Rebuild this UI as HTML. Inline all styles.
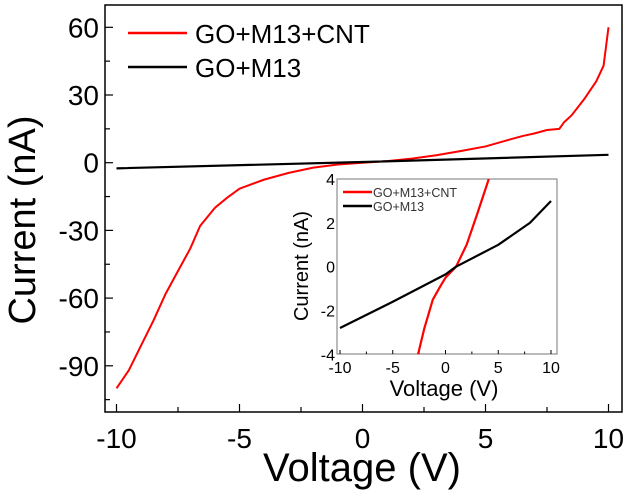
<!DOCTYPE html>
<html><head><meta charset="utf-8"><style>
body{margin:0;background:#fff;width:631px;height:496px;overflow:hidden}
svg{display:block;font-family:"Liberation Sans",sans-serif}
</style></head><body>
<svg id="c" width="631" height="496"></svg>
<script>
const mainRedV=[-10,-9.5,-9,-8.5,-8,-7.5,-7,-6.6,-6,-5.5,-5,-4,-3,-2,-1,0,1,2,3,4,5,6,6.5,7,7.5,8,8.2,8.5,9,9.5,9.8,10];
const mainRedI=[-100,-92,-81,-70,-58,-48,-38,-28,-20,-15.5,-11.5,-7.5,-4.5,-2.2,-0.8,0,0.7,1.8,3.3,5.2,7.2,10.3,11.8,13,14.5,15,18,21,28,36,43,60];
const mainBlackV=[-10,0,10];
const mainBlackI=[-2.5,0.3,3.5];
const insetRedV=[-2.6,-2,-1.2,-0.5,0,1,2,3,4.1];
const insetRedI=[-4,-2.8,-1.5,-0.9,-0.5,0,1,2.4,4];
const insetBlackV=[-10,-5,0,1,5,8,10];
const insetBlackI=[-2.8,-1.6,-0.35,0,1,2,3];
const mainXTicks=[-10,-5,0,5,10];
const mainYTicks=[60,30,0,-30,-60,-90];
const insetXTicks=[-10,-5,0,5,10];
const insetYTicks=[4,2,0,-2,-4];

const svg=document.getElementById('c');
const NS='http://www.w3.org/2000/svg';
function mk(t,a,txt){const e=document.createElementNS(NS,t);for(const k in a)e.setAttribute(k,a[k]);if(txt!==undefined)e.textContent=txt;svg.appendChild(e);return e;}
const mx=v=>116.5+(v+10)*24.6, my=i=>162.7-i*67.7/30;
const ix=v=>340+(v+10)*10.55, iy=i=>266.7-i*21.9;

let e=mk('rect',{x:105,y:5,width:517,height:407,fill:'none',stroke:'#000','stroke-width':1.5});

for(let v=-10;v<=10;v+=2.5){const maj=v%5===0;e=mk('line',{x1:mx(v),x2:mx(v),y1:412,y2:412-(maj?8:5),stroke:'#000','stroke-width':1.2});
}
for(let i=-105;i<=60;i+=15){e=mk('line',{x1:105,x2:105+(i%30===0?8:5),y1:my(i),y2:my(i),stroke:'#000','stroke-width':1.2});
}
mainXTicks.forEach(v=>{e=mk('text',{x:mx(v),y:448,'font-size':28,'text-anchor':'middle'},String(v));
});
mainYTicks.forEach(i=>{e=mk('text',{x:99,y:my(i)+10,'font-size':28,'text-anchor':'end'},String(i));
});
e=mk('text',{x:362,y:481,'font-size':40,'text-anchor':'middle'},'Voltage (V)');

e=mk('text',{x:0,y:0,'font-size':38,'text-anchor':'middle',transform:'translate(35,220) rotate(-90)'},'Current (nA)');


function line(V,I,fx,fy,col,w,name){e=mk('polyline',{points:V.map((v,k)=>fx(v)+','+fy(I[k])).join(' '),fill:'none',stroke:col,'stroke-width':w,'stroke-linejoin':'round'});
}
line(mainRedV,mainRedI,mx,my,'#f00',2,'series-go-m13-cnt');
line(mainBlackV,mainBlackI,mx,my,'#000',2.2,'series-go-m13');

e=mk('line',{x1:128,x2:187,y1:33,y2:33,stroke:'#f00','stroke-width':2.5});
e=mk('text',{x:195,y:43,'font-size':26},'GO+M13+CNT');
e=mk('line',{x1:128,x2:187,y1:67,y2:67,stroke:'#000','stroke-width':2.5});
e=mk('text',{x:195,y:77,'font-size':26},'GO+M13');

e=mk('rect',{x:337,y:179,width:220,height:175,fill:'#fff',stroke:'#777','stroke-width':1});

for(let v=-10;v<=10;v+=2.5){e=mk('line',{x1:ix(v),x2:ix(v),y1:354,y2:354-(v%5===0?4:2.5),stroke:'#000'});
}
insetXTicks.forEach(v=>{e=mk('text',{x:ix(v),y:373,'font-size':16,'text-anchor':'middle'},String(v));
});
insetYTicks.forEach(i=>{e=mk('text',{x:335,y:iy(i)+6,'font-size':16,'text-anchor':'end'},String(i));
});
e=mk('text',{x:444,y:396,'font-size':22,'text-anchor':'middle'},'Voltage (V)');

e=mk('text',{x:0,y:0,'font-size':20,'text-anchor':'middle',transform:'translate(308,266) rotate(-90)'},'Current (nA)');

line(insetRedV,insetRedI,ix,iy,'#f00',2.2,'inset-series-go-m13-cnt');
line(insetBlackV,insetBlackI,ix,iy,'#000',2.2,'inset-series-go-m13');
e=mk('line',{x1:343,x2:372,y1:192,y2:192,stroke:'#f00','stroke-width':2.5});
e=mk('text',{x:373,y:197,'font-size':12.5,fill:'#333'},'GO+M13+CNT');
e=mk('line',{x1:343,x2:372,y1:206,y2:206,stroke:'#000','stroke-width':2.5});
e=mk('text',{x:373,y:211,'font-size':12.5,fill:'#333'},'GO+M13');
</script>
</body></html>
